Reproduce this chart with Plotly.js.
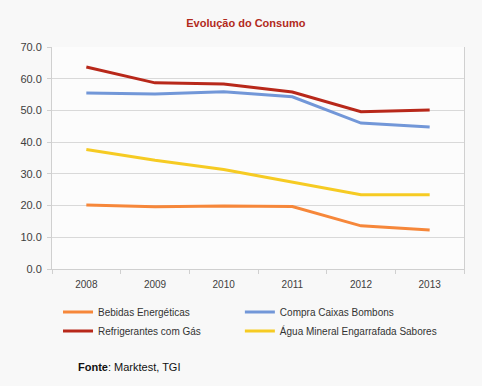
<!DOCTYPE html>
<html>
<head>
<meta charset="utf-8">
<script src="https://cdn.plot.ly/plotly-3.0.1.min.js"></script>
<style>html,body{margin:0;padding:0;background:#f8f8f8;}#chart{width:482px;height:386px;}</style>
</head>
<body>
<div id="chart"></div>
<script>
const years = ["2008", "2009", "2010", "2011", "2012", "2013"];
const bebidas = [20.2, 19.6, 19.9, 19.7, 13.6, 12.3];
const bombons = [55.5, 55.2, 55.9, 54.3, 46.0, 44.8];
const refrigerantes = [63.7, 58.7, 58.3, 55.8, 49.6, 50.1];
const agua = [37.7, 34.3, 31.4, 27.3, 23.4, 23.4];
const yTicks = [0, 10, 20, 30, 40, 50, 60, 70];

function tr(name, y, color, leg) {
  return {x: years, y: y, name: name, type: 'scatter', mode: 'lines',
          line: {color: color, width: 3}, legend: leg};
}
const data = [
  tr('Bebidas Energéticas', bebidas, '#f6873a', 'legend'),
  tr('Compra Caixas Bombons', bombons, '#7297d8', 'legend2'),
  tr('Refrigerantes com Gás', refrigerantes, '#b8281a', 'legend'),
  tr('Água Mineral Engarrafada Sabores', agua, '#f6cb23', 'legend2')
];
const font = {family: 'Liberation Sans, Arial, sans-serif', size: 11, color: '#404040'};
const legBase = {orientation: 'v', xanchor: 'left', y: -0.128, yanchor: 'top',
                 bgcolor: 'rgba(0,0,0,0)', font: {size: 10, color: '#333333'},
                 tracegroupgap: 0, itemwidth: 30, borderwidth: 0};
const layout = {
  width: 482, height: 386,
  paper_bgcolor: '#f8f8f8', plot_bgcolor: '#fcfcfc',
  margin: {l: 52, r: 18, t: 47, b: 117},
  font: font,
  title: {text: '<b>Evolução do Consumo</b>', x: 0.51, xanchor: 'center', y: 0.94, yanchor: 'middle',
          font: {family: 'Liberation Sans, Arial, sans-serif', size: 11, color: '#b22a1c'}},
  xaxis: {type: 'category', range: [-0.5, 5.5], tickson: 'boundaries', ticks: 'outside', ticklen: 4, tickcolor: '#d0d0d0',
          showline: true, linecolor: '#d0d0d0', linewidth: 1, showgrid: false, mirror: false,
          ticklabelstandoff: 6,
          tickfont: {size: 10, color: '#404040'}, fixedrange: true},
  yaxis: {range: [0, 70], tickvals: yTicks, ticktext: yTicks.map(v => v.toFixed(1)),
          ticks: 'outside', ticklen: 4, tickcolor: '#d0d0d0', showline: true, linecolor: '#d0d0d0',
          mirror: true, gridcolor: '#d9d9d9', zeroline: false, ticklabelstandoff: 3,
          tickfont: {size: 11, color: '#404040'}, fixedrange: true},
  showlegend: true,
  legend: Object.assign({}, legBase, {x: 0.0146}),
  legend2: Object.assign({}, legBase, {x: 0.456}),
  annotations: [{text: '<b>Fonte</b>: Marktest, TGI', xref: 'paper', yref: 'paper',
                 x: 0.058, xanchor: 'left', y: -0.44, yanchor: 'middle', showarrow: false,
                 font: {size: 11, color: '#111111'}}]
};
Plotly.newPlot('chart', data, layout, {displayModeBar: false, staticPlot: true});
</script>
</body>
</html>
